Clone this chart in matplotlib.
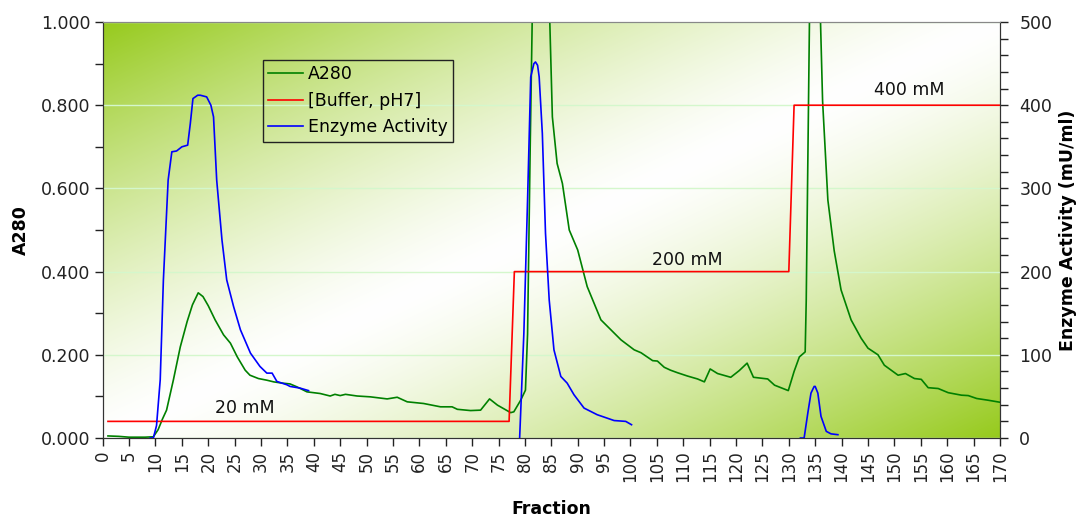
import numpy as np
import matplotlib
matplotlib.use("Agg")
import matplotlib.pyplot as plt
from matplotlib.ticker import MultipleLocator, FormatStrFormatter
from matplotlib.lines import Line2D

# ---- data -------------------------------------------------------------
frac_a280 = [1, 3, 5, 8, 9.6, 10.5, 11.3, 12.1, 13.4, 14.7, 16.0, 17.0, 18.1, 19.0,
             20.0, 21.3, 22.9, 24.2, 25.5, 27.0, 27.9, 29.5, 31.1, 32.4, 34.0, 35.5,
             36.8, 38.7, 41.2, 43.1, 44.0, 45.0, 46.0, 48.2, 50.7, 53.9, 55.8, 57.7,
             60.8, 64.0, 66.2, 67.2, 69.7, 71.6, 73.3, 74.8, 77.3, 77.9, 79.2, 80.1,
             80.5, 81.0, 81.5, 82.5, 83.5, 84.5, 85.2, 86.1, 87.1, 88.4, 90.0, 91.8,
             94.4, 98.2, 100.7, 102.0, 104.2, 105.1, 106.4, 107.6, 108.9, 110.8,
             112.7, 114.0, 115.1, 116.5, 119.0, 120.6, 122.1, 123.3, 126.0, 127.3,
             129.9, 131.0, 132.0, 133.1, 133.3, 134.0, 135.0, 135.8, 136.4, 137.4,
             138.6, 139.9, 141.8, 143.7, 145.0, 146.9, 148.1, 150.7, 152.1, 153.8,
             155.1, 156.4, 158.3, 160.2, 162.7, 164.0, 165.6, 167.7, 170.0]
a280 = [0.005, 0.004, 0.002, 0.002, 0.003, 0.020, 0.045, 0.067, 0.140, 0.219, 0.280,
        0.320, 0.349, 0.340, 0.318, 0.284, 0.248, 0.228, 0.195, 0.163, 0.151, 0.143,
        0.139, 0.135, 0.132, 0.130, 0.123, 0.111, 0.107, 0.101, 0.105, 0.102, 0.105,
        0.101, 0.099, 0.094, 0.098, 0.087, 0.083, 0.075, 0.075, 0.069, 0.066, 0.067,
        0.094, 0.079, 0.061, 0.063, 0.091, 0.115, 0.250, 0.700, 1.100, 1.500, 1.500,
        1.100, 0.772, 0.660, 0.612, 0.500, 0.452, 0.364, 0.284, 0.236, 0.212, 0.205,
        0.186, 0.185, 0.170, 0.163, 0.157, 0.149, 0.142, 0.135, 0.166, 0.155, 0.146,
        0.162, 0.180, 0.146, 0.142, 0.127, 0.114, 0.160, 0.195, 0.207, 0.330, 1.100,
        1.500, 1.100, 0.810, 0.572, 0.450, 0.356, 0.284, 0.240, 0.216, 0.200, 0.175,
        0.151, 0.155, 0.143, 0.141, 0.121, 0.119, 0.109, 0.103, 0.102, 0.095, 0.091,
        0.086]

frac_buffer = [1, 77, 78, 130, 131, 170]
buffer_mM = [20, 20, 200, 200, 400, 400]

nan = np.nan
frac_enzyme = [9.0, 9.6, 10.2, 10.9, 11.5, 12.4, 13.1, 14.0, 15.0, 16.1, 16.6, 17.1,
               18.0, 18.5, 19.7, 20.5, 21.0, 21.6, 22.6, 23.5, 24.8, 26.1, 28.0,
               29.8, 31.1, 32.1, 33.0, 34.9, 35.5, 37.4, 39.0, nan,
               79.0, 79.8, 80.5, 81.1, 81.7, 82.0, 82.4, 82.7, 83.3, 83.9, 84.6,
               85.5, 86.8, 88.0, 89.3, 91.2, 93.7, 96.9, 99.1, 100.2, nan,
               132.2, 132.9, 133.6, 133.9, 134.2, 134.8, 135.0, 135.5, 136.1, 137.1,
               138.0, 139.3]
enzyme = [0, 0, 15, 70, 190, 310, 344, 345, 350, 352, 378, 408, 412, 412, 410, 400,
          386, 310, 238, 190, 158, 130, 102, 86, 78, 78, 68, 64, 62, 60, 57, nan,
          0, 126, 286, 434, 450, 452, 448, 434, 366, 246, 166, 106, 74, 66, 52, 36,
          28, 21, 20, 16, nan,
          0, 0, 30, 42, 54, 62, 62, 54, 26, 8, 5, 4]

step_labels = ["20 mM", "200 mM", "400 mM"]
step_label_x = [27, 110.7, 152.8]
step_label_y = [36, 214, 418]

# ---- figure -----------------------------------------------------------
plt.rcParams['font.family'] = ['DejaVu Sans']
fig = plt.figure(figsize=(10.81, 5.18), dpi=100)
ax = fig.add_axes([0.095, 0.1544, 0.830, 0.8031])

# diagonal two-sided gradient: green corners, white diagonal band
n = 400
gx, gy = np.meshgrid(np.linspace(0, 1, n), np.linspace(1, 0, n))
t = np.abs(gx - gy) ** 1.35
green = np.array([150, 202, 28]) / 255.0
white = np.array([1.0, 1.0, 1.0])
img = white[None, None, :] * (1 - t[..., None]) + green[None, None, :] * t[..., None]
ax.imshow(img, extent=(0, 1, 0, 1), transform=ax.transAxes, aspect='auto',
          zorder=0, interpolation='bilinear')

ax.set_xlim(0, 170)
ax.set_ylim(0, 1.0)
ax.yaxis.set_major_locator(MultipleLocator(0.2))
ax.yaxis.set_minor_locator(MultipleLocator(0.1))
ax.yaxis.set_major_formatter(FormatStrFormatter('%.3f'))
ax.xaxis.set_major_locator(MultipleLocator(5))
ax.grid(axis='y', which='major', color='#d4f7cc', lw=1.0, zorder=1)
ax.set_axisbelow(False)

ax.plot(frac_a280, a280, color='#008000', lw=1.2, zorder=3)

ax2 = ax.twinx()
ax2.set_ylim(0, 500)
ax2.yaxis.set_major_locator(MultipleLocator(100))
ax2.yaxis.set_minor_locator(MultipleLocator(20))
ax2.plot(frac_buffer, buffer_mM, color='#ff0000', lw=1.2)
ax2.plot(frac_enzyme, enzyme, color='#0000ff', lw=1.2)

for s, xv, yv in zip(step_labels, step_label_x, step_label_y):
    ax2.text(xv, yv, s, ha='center', va='center', fontsize=12.5, color='#111111')

# ticks and spines
for a in (ax, ax2):
    a.tick_params(which='both', direction='out', length=6, width=1, colors='#222222',
                  labelsize=12.5)
    for side in ('left', 'right', 'bottom'):
        a.spines[side].set_color('#333333')
    a.spines['top'].set_color('#888888')
ax.tick_params(axis='x', labelrotation=90, pad=3, labelsize=12)
ax.tick_params(axis='y', pad=3)
ax2.tick_params(axis='y', pad=8)

ax.set_xlabel('Fraction', fontsize=12.5, fontweight='bold', labelpad=13)
ax.set_ylabel('A280', fontsize=12.5, fontweight='bold', labelpad=8)
ax2.set_ylabel('Enzyme Activity (mU/ml)', fontsize=12.5, fontweight='bold', labelpad=5)

handles = [Line2D([], [], color='#008000', lw=1.2),
           Line2D([], [], color='#ff0000', lw=1.2),
           Line2D([], [], color='#0000ff', lw=1.2)]
leg = ax2.legend(handles, ['A280', '[Buffer, pH7]', 'Enzyme Activity'],
                 loc='upper left', bbox_to_anchor=(0.1786, 0.909), borderaxespad=0,
                 fontsize=12.5, fancybox=False, edgecolor='#222222',
                 handlelength=2.0, handletextpad=0.3, labelspacing=0.5,
                 borderpad=0.3)
frame = leg.get_frame()
frame.set_facecolor('none')
frame.set_alpha(None)
frame.set_edgecolor('#222222')
frame.set_linewidth(1.0)

fig.savefig('out.png', dpi=100)
